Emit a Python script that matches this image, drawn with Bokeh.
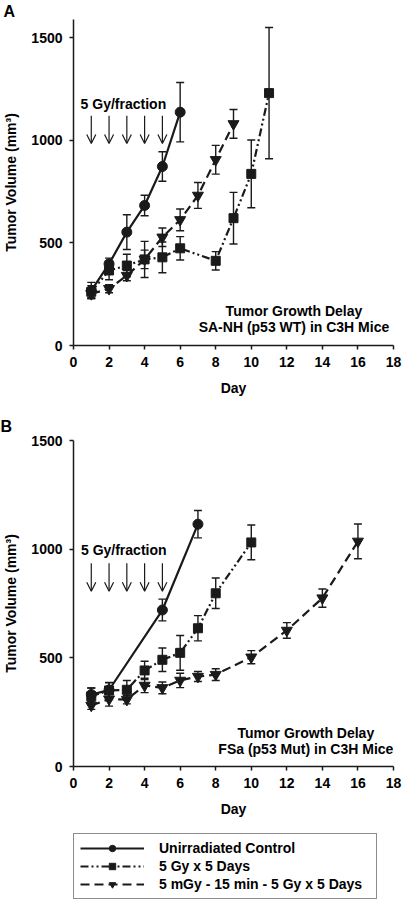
from bokeh.plotting import figure
from bokeh.models import (ColumnDataSource, Whisker, TeeHead, Label, Arrow, OpenHead,
                          FixedTicker, Range1d, Legend, LegendItem, Title)
from bokeh.layouts import column
from bokeh.embed import file_html
from bokeh.resources import INLINE

FONT = "Liberation Sans"
INK = "#1a1a1a"
NAN = float("nan")

# ---------------- data ----------------
x_ticks = [0, 2, 4, 6, 8, 10, 12, 14, 16, 18]
y_ticks = [0, 500, 1000, 1500]
fraction_days = [1, 2, 3, 4, 5]

series_names = ["Unirradiated Control", "5 Gy x 5 Days", "5 mGy - 15 min - 5 Gy x 5 Days"]

# Panel A: SA-NH (p53 WT)
a_ctrl_day = [1, 2, 3, 4, 5, 6]
a_ctrl_vol = [268, 398, 553, 683, 873, 1138]
a_ctrl_err = [40, 28, 85, 50, 72, 145]

a_gy_day = [1, 2, 3, 4, 5, 6, 8, 9, 10, 11]
a_gy_vol = [262, 366, 390, 420, 430, 474, 413, 621, 837, 1231]
a_gy_err = [30, 45, 55, 88, 75, 57, 45, 126, 165, 320]

a_mgy_day = [1, 2, 3, 4, 5, 6, 7, 8, 9]
a_mgy_vol = [252, 277, 341, 420, 528, 613, 732, 906, 1081]
a_mgy_err = [20, 20, 25, 45, 45, 53, 63, 70, 70]

# Panel B: FSa (p53 Mut)
b_ctrl_day = [1, 2, 5, 7]
b_ctrl_vol = [331, 352, 720, 1115]
b_ctrl_err = [30, 35, 50, 63]

b_gy_day = [1, 2, 3, 4, 5, 6, 7, 8, 10]
b_gy_vol = [323, 350, 353, 442, 491, 523, 636, 797, 1031]
b_gy_err = [38, 35, 43, 42, 54, 80, 58, 70, 80]

b_mgy_day = [1, 2, 3, 4, 5, 6, 7, 8, 10, 12, 14, 16]
b_mgy_vol = [281, 310, 308, 373, 362, 396, 414, 423, 503, 626, 775, 1036]
b_mgy_err = [18, 32, 20, 33, 27, 33, 23, 27, 30, 36, 42, 80]

styles = [
    dict(dash="solid", marker="circle", size=10),
    dict(dash="8 3 2 3 2 3", marker="square", size=9),
    dict(dash="9 5", marker="inverted_triangle", size=11),
]


def style_axes(p):
    p.outline_line_color = None
    p.grid.visible = False
    p.background_fill_color = "white"
    p.border_fill_color = "white"
    p.xaxis.ticker = FixedTicker(ticks=x_ticks)
    p.yaxis.ticker = FixedTicker(ticks=y_ticks)
    for ax in (p.xaxis[0], p.yaxis[0]):
        ax.axis_line_color = INK
        ax.axis_line_width = 1.5
        ax.major_tick_line_color = INK
        ax.major_tick_line_width = 1.5
        ax.major_tick_in = 0
        ax.major_tick_out = 4
        ax.minor_tick_line_color = None
        ax.major_label_text_font = FONT
        ax.major_label_text_font_style = "bold"
        ax.major_label_text_font_size = "14px"
        ax.major_label_text_color = "black"
        ax.major_label_standoff = 7
        ax.axis_label_text_font = FONT
        ax.axis_label_text_font_style = "bold"
        ax.axis_label_text_font_size = "14px"
        ax.axis_label_text_color = "black"
    p.xaxis.axis_label = "Day"
    p.xaxis.axis_label_standoff = 10
    p.yaxis.axis_label = "Tumor Volume (mm³)"
    p.yaxis.axis_label_standoff = 9


def add_series(p, days, vols, errs, st):
    src = ColumnDataSource(dict(x=days, y=vols,
                                upper=[v + e for v, e in zip(vols, errs)],
                                lower=[v - e for v, e in zip(vols, errs)]))
    w = Whisker(source=src, base="x", upper="upper", lower="lower", dimension="height",
                line_color=INK, line_width=1.4,
                upper_head=TeeHead(size=8, line_color=INK, line_width=1.4),
                lower_head=TeeHead(size=8, line_color=INK, line_width=1.4))
    p.add_layout(w)
    lr = p.line("x", "y", source=src, line_color=INK, line_width=2.2, line_dash=st["dash"])
    sr = p.scatter("x", "y", source=src, marker=st["marker"], size=st["size"],
                   fill_color=INK, line_color=INK)
    return lr, sr


def txt(p, x, y, text, size="14px", align="left", baseline="middle"):
    p.add_layout(Label(x=x, y=y, text=text, text_font=FONT, text_font_style="bold",
                       text_font_size=size, text_align=align, text_baseline=baseline,
                       text_color="black"))


def arrows(p, y_top, y_tip):
    for d in fraction_days:
        p.add_layout(Arrow(x_start=d, y_start=y_top, x_end=d, y_end=y_tip,
                           line_color=INK, line_width=1.2,
                           end=OpenHead(size=9, line_color=INK, line_width=1.2)))


def letter(p, text, offset, standoff):
    p.add_layout(Title(text=text, align="left", offset=offset, standoff=standoff,
                       text_font=FONT, text_font_style="bold", text_font_size="16px",
                       text_color="black"), "above")


# ---------------- Panel A ----------------
pA = figure(width=404, height=410, x_range=Range1d(0, 18), y_range=Range1d(0, 1590),
            output_backend="svg", toolbar_location=None,
            min_border_left=68, min_border_right=11, min_border_top=19, min_border_bottom=65)
style_axes(pA)
letter(pA, "A", -70, 0)
for (d, v, e), st in zip([(a_ctrl_day, a_ctrl_vol, a_ctrl_err),
                          (a_gy_day, a_gy_vol, a_gy_err),
                          (a_mgy_day, a_mgy_vol, a_mgy_err)], styles):
    add_series(pA, d, v, e, st)
arrows(pA, 1120, 985)
txt(pA, 0.4, 1180, "5 Gy/fraction")
txt(pA, 12.4, 166, "Tumor Growth Delay", align="center")
txt(pA, 12.4, 88, "SA-NH (p53 WT) in C3H Mice", align="center")

# ---------------- Panel B ----------------
pB = figure(width=404, height=410, x_range=Range1d(0, 18), y_range=Range1d(0, 1500),
            output_backend="svg", toolbar_location=None,
            min_border_left=71, min_border_right=8, min_border_top=30, min_border_bottom=54)
style_axes(pB)
letter(pB, "B", -73, 11)
for (d, v, e), st in zip([(b_ctrl_day, b_ctrl_vol, b_ctrl_err),
                          (b_gy_day, b_gy_vol, b_gy_err),
                          (b_mgy_day, b_mgy_vol, b_mgy_err)], styles):
    add_series(pB, d, v, e, st)
arrows(pB, 935, 806)
txt(pB, 0.42, 998, "5 Gy/fraction")
txt(pB, 13.07, 153, "Tumor Growth Delay", align="center")
txt(pB, 13.07, 80, "FSa (p53 Mut) in C3H Mice", align="center")

# ---------------- Legend (own strip below panel B) ----------------
pL = figure(width=404, height=80, x_range=Range1d(0, 1), y_range=Range1d(0, 1),
            x_axis_type=None, y_axis_type=None, output_backend="svg", toolbar_location=None,
            min_border_left=72, min_border_right=0, min_border_top=13, min_border_bottom=0)
pL.outline_line_color = None
pL.grid.visible = False
items = []
for st, name in zip(styles, series_names):
    # legend proxies: one NaN point each, so nothing is drawn in the strip itself
    lr = pL.line(x=[NAN], y=[NAN], line_color=INK, line_width=2.2, line_dash=st["dash"])
    sr = pL.scatter(x=[NAN], y=[NAN], marker=st["marker"], size=st["size"],
                    fill_color=INK, line_color=INK)
    items.append(LegendItem(label=name, renderers=[lr, sr]))
legend = Legend(items=items, location="top_left", margin=0, padding=6, spacing=2,
                glyph_width=64, glyph_height=16, label_height=16, label_width=211,
                label_standoff=15, border_line_color=INK, border_line_width=1.5,
                label_text_font=FONT, label_text_font_style="bold",
                label_text_font_size="14px", label_text_color="black",
                background_fill_color="white", background_fill_alpha=1.0)
pL.add_layout(legend, "center")

layout = column(pA, pB, pL, spacing=0)
open("out.html", "w").write(file_html(layout, INLINE))
